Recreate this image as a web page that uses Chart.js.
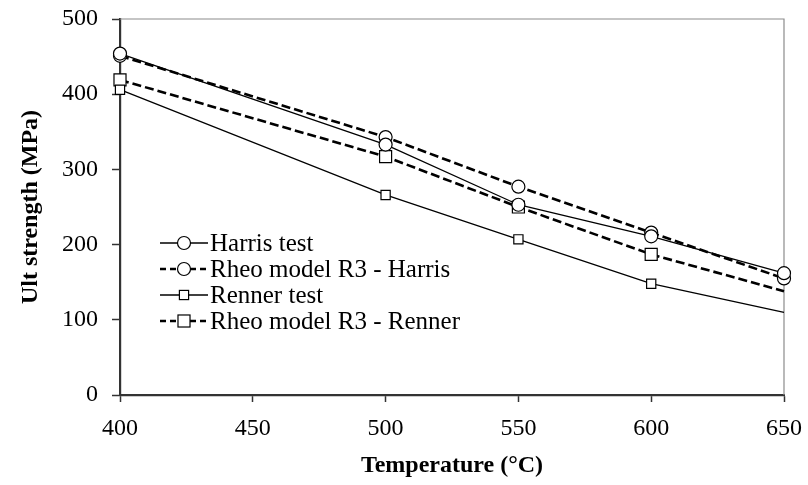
<!DOCTYPE html>
<html>
<head>
<meta charset="utf-8">
<script src="https://cdn.jsdelivr.net/npm/chart.js@4/dist/chart.umd.min.js"></script>
<style>
  html, body { margin: 0; padding: 0; background: #fff; }
  #wrap { position: relative; width: 808px; height: 485px; }
  #legend { position: absolute; left: 160px; top: 230px; font-family: 'Liberation Serif', serif; font-size: 25px; color: #000; }
  #legend .row { display: flex; align-items: center; height: 26px; white-space: nowrap; }
  #legend svg { margin-right: 2px; }
</style>
</head>
<body>
<div id="wrap">
  <canvas id="chart" width="808" height="485"></canvas>
  <div id="legend"></div>
</div>
<script>
// Temperature (°C)
const temps = [400, 500, 550, 600, 650];
const xTicks = [400, 450, 500, 550, 600, 650];
const yTicks = [0, 100, 200, 300, 400, 500];

// Ult strength (MPa)
const harrisTest   = [454, 333, 253, 211, 162];
const rheoHarris   = [451, 343, 277, 216, 155];
const rennerTest   = [406, 266, 207, 148, 110];
const rheoRenner   = [419, 317, 250, 187, 138];

const seriesNames = ['Harris test', 'Rheo model R3 - Harris', 'Renner test', 'Rheo model R3 - Renner'];

const pts = (arr) => arr.map((v, i) => ({ x: temps[i], y: v }));

const sets = [
  { label: seriesNames[0], data: pts(harrisTest), pointStyle: 'circle', pointRadius: 6.5, borderWidth: 1.3, borderDash: [] },
  { label: seriesNames[1], data: pts(rheoHarris), pointStyle: 'circle', pointRadius: 6.5, borderWidth: 2.6, borderDash: [9, 4] },
  { label: seriesNames[2], data: pts(rennerTest), pointStyle: 'rect', pointRadius: [6.5, 6.5, 6.5, 6.5, 0], borderWidth: 1.3, borderDash: [] },
  { label: seriesNames[3], data: pts(rheoRenner), pointStyle: 'rect', pointRadius: [8.5, 8.5, 8.5, 8.5, 0], borderWidth: 2.6, borderDash: [9, 4] }
].map((d) => Object.assign({
  borderColor: '#000',
  backgroundColor: '#fff',
  pointBorderColor: '#000',
  pointBackgroundColor: '#fff',
  pointBorderWidth: 1.2,
  pointHoverRadius: 0,
  tension: 0,
  clip: false
}, d));

// thin grey frame on top/right of the plot area
const frame = {
  id: 'frame',
  beforeDatasetsDraw(chart) {
    const { ctx, chartArea: a } = chart;
    ctx.save();
    ctx.strokeStyle = '#8c8c8c';
    ctx.lineWidth = 1.2;
    ctx.beginPath();
    ctx.moveTo(a.left, a.top);
    ctx.lineTo(a.right, a.top);
    ctx.lineTo(a.right, a.bottom);
    ctx.stroke();
    ctx.restore();
  }
};

const font = { family: "'Liberation Serif', serif", size: 24 };
const titleFont = { family: "'Liberation Serif', serif", size: 24, weight: 'bold' };

const chart = new Chart(document.getElementById('chart'), {
  type: 'line',
  data: { datasets: sets },
  plugins: [frame],
  options: {
    responsive: false,
    animation: false,
    layout: { padding: { left: 0, right: 24, top: 19, bottom: 0 } },
    plugins: { legend: { display: false }, tooltip: { enabled: false } },
    scales: {
      x: {
        type: 'linear', min: 400, max: 650,
        afterBuildTicks: (s) => { s.ticks = xTicks.map((v) => ({ value: v })); },
        afterFit: (s) => { s.height = 90; s.paddingLeft = 0; s.paddingRight = 0; },
        grid: { drawOnChartArea: false, drawTicks: true, tickLength: 7, color: '#333', tickWidth: 1.5 },
        border: { color: '#333', width: 2.2 },
        ticks: { color: '#000', font, padding: 12, maxRotation: 0 },
        title: { display: true, text: 'Temperature (°C)', color: '#000', font: titleFont, padding: { top: 0, bottom: 5 } }
      },
      y: {
        min: 0, max: 500,
        afterBuildTicks: (s) => { s.ticks = yTicks.map((v) => ({ value: v })); },
        afterFit: (s) => { s.width = 120; s.paddingTop = 0; s.paddingBottom = 0; },
        grid: { drawOnChartArea: false, drawTicks: true, tickLength: 8, color: '#333', tickWidth: 1.5 },
        border: { color: '#333', width: 2.2 },
        ticks: { color: '#000', font, padding: 14 },
        title: { display: true, text: 'Ult strength (MPa)', color: '#000', font: titleFont, padding: { top: 16, bottom: 0 } }
      }
    }
  }
});

// HTML legend: line segment with marker, then label
const legend = document.getElementById('legend');
sets.forEach((d) => {
  const dashed = d.borderDash.length > 0;
  const r = Array.isArray(d.pointRadius) ? d.pointRadius[0] : d.pointRadius;
  const side = r * Math.SQRT2;
  const marker = d.pointStyle === 'circle'
    ? `<circle cx="24" cy="13" r="${r}" fill="#fff" stroke="#000" stroke-width="1.2"/>`
    : `<rect x="${24 - side / 2}" y="${13 - side / 2}" width="${side}" height="${side}" fill="#fff" stroke="#000" stroke-width="1.2"/>`;
  const row = document.createElement('div');
  row.className = 'row';
  row.innerHTML = `<svg width="48" height="26"><line x1="0" y1="13" x2="48" y2="13" stroke="#000" stroke-width="${d.borderWidth}" ${dashed ? 'stroke-dasharray="6 4"' : ''}/>${marker}</svg><span>${d.label}</span>`;
  legend.appendChild(row);
});
</script>
</body>
</html>
